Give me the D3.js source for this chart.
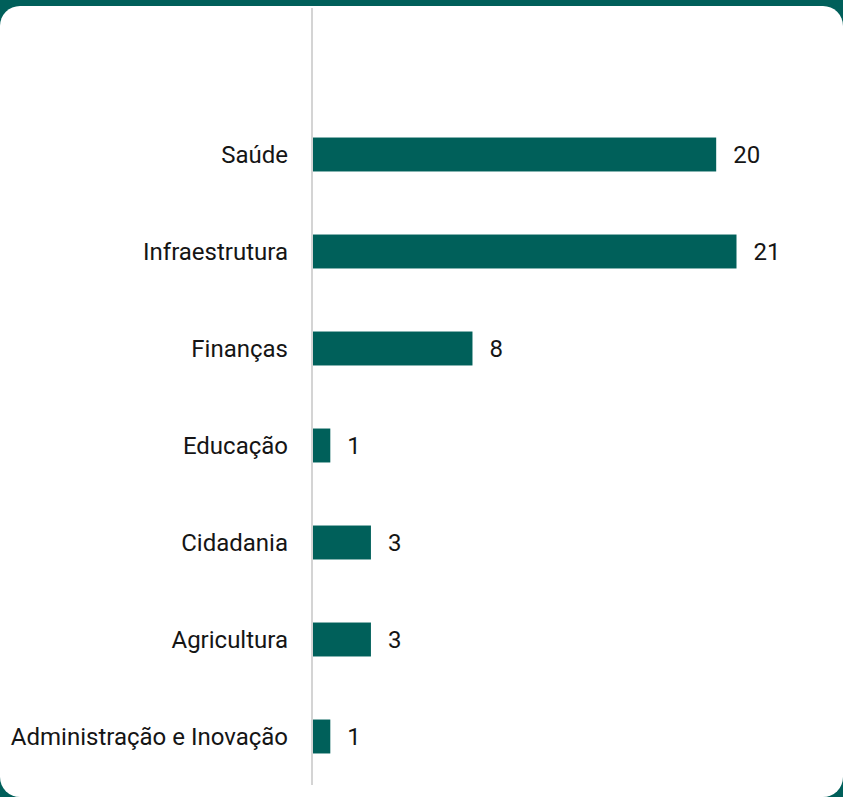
<!DOCTYPE html>
<html>
<head>
<meta charset="utf-8">
<script src="https://cdn.jsdelivr.net/npm/d3@7"></script>
<style>
  html, body { margin: 0; padding: 0; background: #005f5a; }
  body { width: 843px; height: 797px; overflow: hidden; }
  .card {
    position: absolute; left: 0; top: 6px; width: 843px; height: 791px;
    background: #fff; border-radius: 20px;
  }
  svg { position: absolute; left: 0; top: 0; }
  text { font-family: Roboto, "Noto Sans", sans-serif; fill: #151515; }
</style>
</head>
<body>
<div class="card"></div>
<svg id="chart" width="843" height="797"></svg>
<script>
const categories = ['Saúde', 'Infraestrutura', 'Finanças', 'Educação', 'Cidadania', 'Agricultura', 'Administração e Inovação'];
const values = [20, 21, 8, 1, 3, 3, 1];

const svg = d3.select('#chart');
const x0 = 313;

const y = d3.scaleBand()
  .domain(categories)
  .range([106, 785])
  .paddingInner(0.65)
  .paddingOuter(0.325);

const x = d3.scaleLinear()
  .domain([0, 21])
  .range([310, 736.5]);

// vertical axis line
svg.append('line')
  .attr('x1', 312).attr('x2', 312)
  .attr('y1', 8).attr('y2', 785)
  .attr('stroke', '#d4d4d4')
  .attr('stroke-width', 2);

const rows = svg.selectAll('g.row')
  .data(categories)
  .enter()
  .append('g')
  .attr('class', 'row');

rows.append('rect')
  .attr('x', x0)
  .attr('y', (d) => y(d))
  .attr('width', (d, i) => x(values[i]) - x0)
  .attr('height', y.bandwidth())
  .attr('fill', '#00605a');

rows.append('text')
  .attr('x', 288)
  .attr('y', (d) => y(d) + y.bandwidth() / 2)
  .attr('dy', '0.35em')
  .attr('text-anchor', 'end')
  .attr('font-size', 24)
  .text((d) => d);

rows.append('text')
  .attr('x', (d, i) => x(values[i]) + 17)
  .attr('y', (d) => y(d) + y.bandwidth() / 2)
  .attr('dy', '0.35em')
  .attr('font-size', 24)
  .text((d, i) => values[i]);
</script>
</body>
</html>
